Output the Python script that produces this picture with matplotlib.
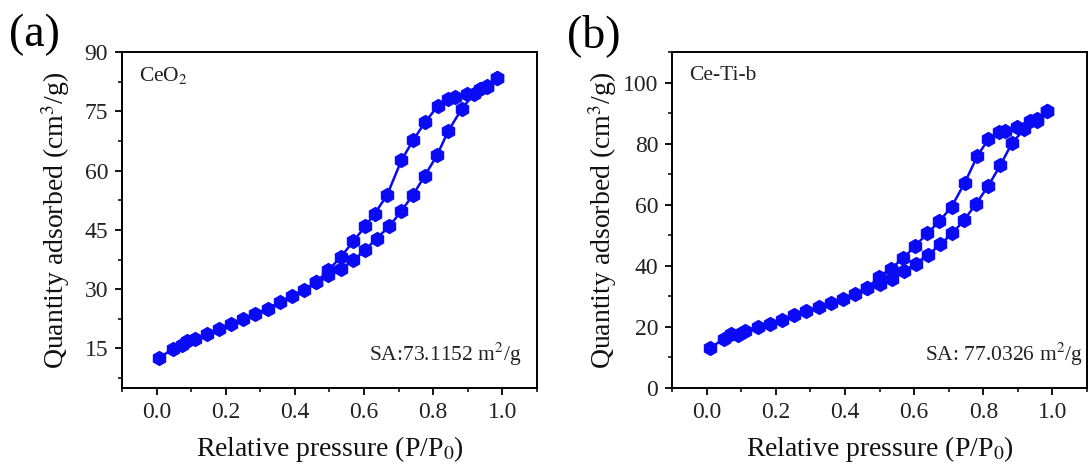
import numpy as np
import matplotlib.pyplot as plt
from matplotlib.ticker import MultipleLocator

plt.rcParams['font.family'] = ['Liberation Serif', 'DejaVu Serif']
plt.rcParams['mathtext.fontset'] = 'stix'

# (a) CeO2 - adsorptsioon ja desorptsioon
a_ads_x = [0.007, 0.047, 0.074, 0.088, 0.112, 0.145, 0.180, 0.215, 0.250, 0.285,
           0.321, 0.356, 0.391, 0.427, 0.462, 0.497, 0.532, 0.569, 0.602, 0.636,
           0.673, 0.707, 0.741, 0.775, 0.811, 0.844, 0.883, 0.919, 0.955, 0.984]
a_ads_y = [12.6, 14.9, 15.8, 16.8, 17.5, 18.7, 20.0, 21.3, 22.5, 23.8,
           25.1, 26.7, 28.2, 29.9, 31.8, 33.5, 35.2, 37.3, 39.8, 42.8,
           45.9, 49.7, 53.8, 58.6, 63.9, 70.1, 75.7, 79.5, 81.2, 83.3]
a_des_x = [0.984, 0.955, 0.936, 0.897, 0.864, 0.844, 0.813, 0.777, 0.742, 0.708,
           0.667, 0.631, 0.604, 0.569, 0.532, 0.497, 0.462]
a_des_y = [83.3, 81.5, 80.6, 79.5, 78.5, 78.2, 76.3, 72.3, 67.7, 62.6,
           53.9, 49.1, 46.0, 42.1, 38.1, 34.8, 31.8]

# (b) Ce-Ti-b
b_ads_x = [0.011, 0.049, 0.071, 0.090, 0.112, 0.148, 0.182, 0.218, 0.254, 0.287,
           0.324, 0.359, 0.393, 0.428, 0.463, 0.501, 0.535, 0.571, 0.604, 0.641,
           0.676, 0.710, 0.744, 0.779, 0.814, 0.849, 0.883, 0.919, 0.955, 0.984]
b_ads_y = [13.0, 16.2, 17.6, 17.3, 18.7, 20.0, 21.1, 22.4, 23.9, 25.2,
           26.6, 27.9, 29.3, 30.9, 32.6, 33.9, 35.8, 38.2, 40.7, 43.7,
           47.0, 50.6, 54.9, 60.3, 66.1, 72.9, 80.2, 84.8, 87.3, 90.6]
b_des_x = [0.984, 0.955, 0.936, 0.897, 0.864, 0.846, 0.814, 0.782, 0.746, 0.708,
           0.673, 0.638, 0.602, 0.568, 0.532, 0.499, 0.463]
b_des_y = [90.6, 88.0, 87.3, 85.6, 84.3, 83.8, 81.4, 75.8, 67.1, 59.3,
           54.6, 50.6, 46.4, 42.4, 39.1, 36.4, 32.6]

fig = plt.figure(figsize=(10.91, 4.68), dpi=100)
ax1 = fig.add_axes([0.1118, 0.1709, 0.3804, 0.718])
ax2 = fig.add_axes([0.616, 0.1709, 0.3804, 0.718])

blue = '#0A0AF5'
style = dict(color=blue, marker='h', markersize=10, linewidth=1.8,
             markeredgecolor=blue)

panels = [
    (ax1, a_ads_x, a_ads_y, a_des_x, a_des_y, (5, 90), 15, 7.5,
     'CeO$_2$', 'SA:73.1152 m$^2$/g', 0.962, 9),
    (ax2, b_ads_x, b_ads_y, b_des_x, b_des_y, (0, 110), 20, 10,
     'Ce-Ti-b', 'SA: 77.0326 m$^2$/g', 0.99, 3),
]

for ax, ax_x, ax_y, dx, dy, ylim, major, minor, name, sa, sa_x, ypad in panels:
    ax.plot(ax_x, ax_y, **style)
    ax.plot(dx, dy, **style)
    ax.set_xlim(-0.1, 1.1)
    ax.set_ylim(*ylim)
    ax.xaxis.set_minor_locator(MultipleLocator(0.1))
    ax.yaxis.set_major_locator(MultipleLocator(major))
    ax.yaxis.set_minor_locator(MultipleLocator(minor))
    ax.set_xticks(np.arange(0, 1.01, 0.2))
    ax.set_xticklabels(['0.0', '0.2', '0.4', '0.6', '0.8', '1.0'])
    ax.tick_params(which='major', direction='out', length=5, width=1.3,
                   labelsize=17, pad=5, labelcolor='#222222')
    ax.tick_params(which='minor', direction='out', length=3, width=1.1)
    for s in ax.spines.values():
        s.set_linewidth(1.4)
    ax.set_xlabel('Relative pressure (P/P$_0$)', fontsize=20, labelpad=8,
                  color='#111111')
    ax.set_ylabel('Quantity adsorbed (cm$^3$/g)', fontsize=20, labelpad=ypad,
                  color='#111111')
    ax.text(0.04, 0.93, name, transform=ax.transAxes, fontsize=15.5,
            va='center', ha='left', color='#222222')
    ax.text(sa_x, 0.1, sa, transform=ax.transAxes, fontsize=15.5,
            va='center', ha='right', color='#222222')

fig.text(0.008, 0.925, '(a)', fontsize=33, ha='left', va='center')
fig.text(0.520, 0.925, '(b)', fontsize=33, ha='left', va='center')

plt.savefig('out.png', dpi=100)
plt.close()
